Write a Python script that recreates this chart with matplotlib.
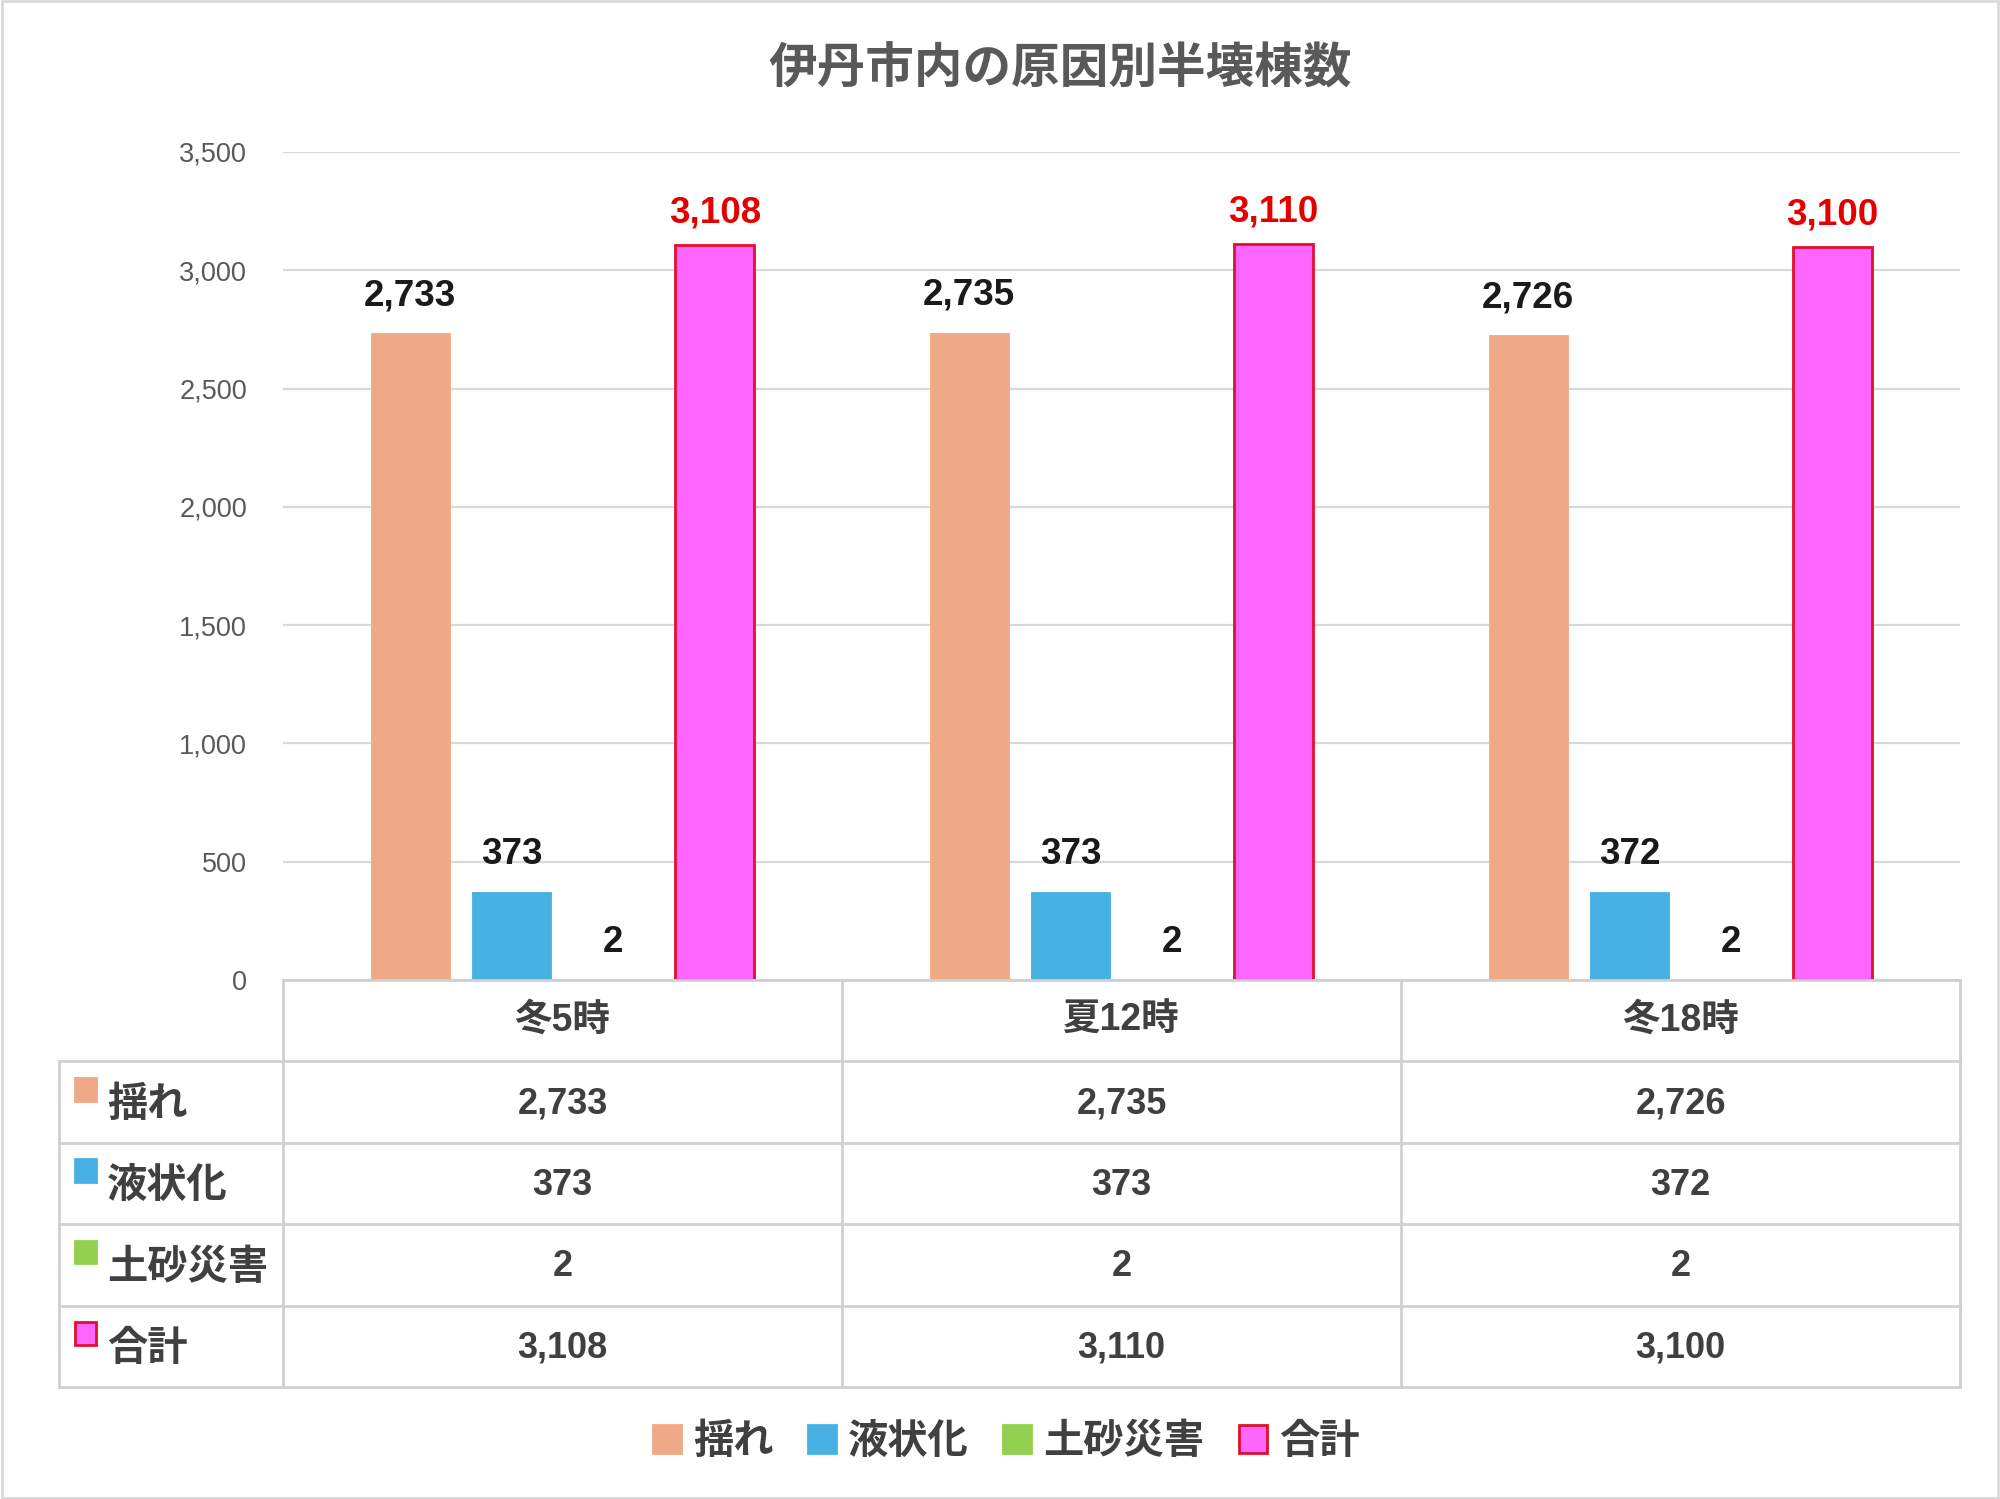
import matplotlib
matplotlib.use("Agg")
import matplotlib.pyplot as plt
from matplotlib.patches import Patch, Rectangle
from matplotlib.ticker import FuncFormatter

plt.rcParams["font.family"] = ["Liberation Sans", "Noto Sans CJK JP"]

# ── data ───────────────────────────────────────────────────────────────────────
TITLE      = "伊丹市内の原因別半壊棟数"
categories = ["冬5時", "夏12時", "冬18時"]
series     = ["揺れ", "液状化", "土砂災害", "合計"]
shake      = [2733, 2735, 2726]
liquefy    = [373, 373, 372]
landslide  = [2, 2, 2]
total      = [3108, 3110, 3100]
values     = [shake, liquefy, landslide, total]

# ── style ──────────────────────────────────────────────────────────────────────
face_colors = ["#F0A986", "#45B0E1", "#92D050", "#FF66FF"]
edge_colors = ["#F0A986", "#45B0E1", "#92D050", "#E0102F"]
edge_widths = [0.6, 0.6, 1.0, 2]
label_cols  = ["#1A1A1A", "#1A1A1A", "#1A1A1A", "#E50000"]
label_offs  = [27, 27, 27, 23]
GRID  = "#D9D9D9"
GRAY  = "#595959"
DARK  = "#404040"

BAR_W  = 0.142
STEP   = 0.1815
X_LEFT = -0.4   # left label column of the table, in category units

fig = plt.figure(figsize=(20, 14.99), dpi=100)

ax_l, ax_w = 0.1415, 0.8385
ax = fig.add_axes([ax_l, 0.3462, ax_w, 0.5524])
tab_l = ax_l + X_LEFT * ax_w / 3
tab = fig.add_axes([tab_l, 0.0747, ax_l + ax_w - tab_l, 0.2715])

# ── bars ───────────────────────────────────────────────────────────────────────
centers = [i + 0.5 for i in range(len(categories))]
for s, vals in enumerate(values):
    xs = [c + (s - 1.5) * STEP for c in centers]
    ax.bar(xs, vals, width=BAR_W, color=face_colors[s], edgecolor=edge_colors[s],
           linewidth=edge_widths[s], zorder=3)
    for x, v in zip(xs, vals):
        ax.annotate(f"{v:,}", (x, v), xytext=(0, label_offs[s]),
                    textcoords="offset points", ha="center", va="center",
                    fontsize=26.5, fontweight="bold", color=label_cols[s])

ax.set_xlim(0, 3)
ax.set_ylim(0, 3500)
ax.set_yticks(range(0, 3501, 500))
ax.yaxis.set_major_formatter(FuncFormatter(lambda v, _: f"{int(v):,}"))
ax.tick_params(axis="y", length=0, pad=26, labelsize=19.5, labelcolor=GRAY)
ax.set_xticks([])
ax.grid(axis="y", color=GRID, linewidth=1.6, zorder=0)
for sp in ax.spines.values():
    sp.set_visible(False)

# ── data table ─────────────────────────────────────────────────────────────────
n_rows = len(series) + 1
tab.set_xlim(X_LEFT, 3)
tab.set_ylim(n_rows, 0)
tab.axis("off")
lkw = dict(color="#D0D0D0", linewidth=2, clip_on=False)

# horizontal lines
tab.plot([0, 3], [0, 0], **lkw)
for r in range(1, n_rows + 1):
    tab.plot([X_LEFT, 3], [r, r], **lkw)
# vertical lines
tab.plot([X_LEFT, X_LEFT], [1, n_rows], **lkw)
for c in range(len(categories) + 1):
    tab.plot([c, c], [0, n_rows], **lkw)

for c, name in zip(centers, categories):
    tab.text(c, 0.5, name, ha="center", va="center", fontsize=27,
             fontweight="bold", color=DARK)

for r, (name, vals, fc, ec) in enumerate(zip(series, values, face_colors, edge_colors), start=1):
    tab.add_patch(Rectangle((X_LEFT + 0.028, r + 0.2), 0.038, 0.28,
                            facecolor=fc, edgecolor=ec, linewidth=2, clip_on=False))
    tab.text(X_LEFT + 0.085, r + 0.53, name, ha="left", va="center",
             fontsize=29, fontweight="bold", color=DARK)
    for c, v in zip(centers, vals):
        tab.text(c, r + 0.52, f"{v:,}", ha="center", va="center",
                 fontsize=26, fontweight="bold", color=DARK)

# ── title & legend ─────────────────────────────────────────────────────────────
fig.text(0.53, 0.953, TITLE, ha="center", va="center", fontsize=35,
         fontweight="bold", color=GRAY)

handles = [Patch(facecolor=fc, edgecolor=ec, linewidth=2)
           for fc, ec in zip(face_colors, edge_colors)]
leg = fig.legend(handles, series, loc="center", bbox_to_anchor=(0.503, 0.038),
                 ncol=4, frameon=False, fontsize=29, handlelength=0.7,
                 handleheight=0.7, handletextpad=0.3, columnspacing=0.85)
for t in leg.get_texts():
    t.set_color(DARK)
    t.set_fontweight("bold")

fig.add_artist(Rectangle((0.001, 0.001), 0.998, 0.998, transform=fig.transFigure,
                         fill=False, edgecolor=GRID, linewidth=2))

fig.savefig("out.png", dpi=100, facecolor="white")
